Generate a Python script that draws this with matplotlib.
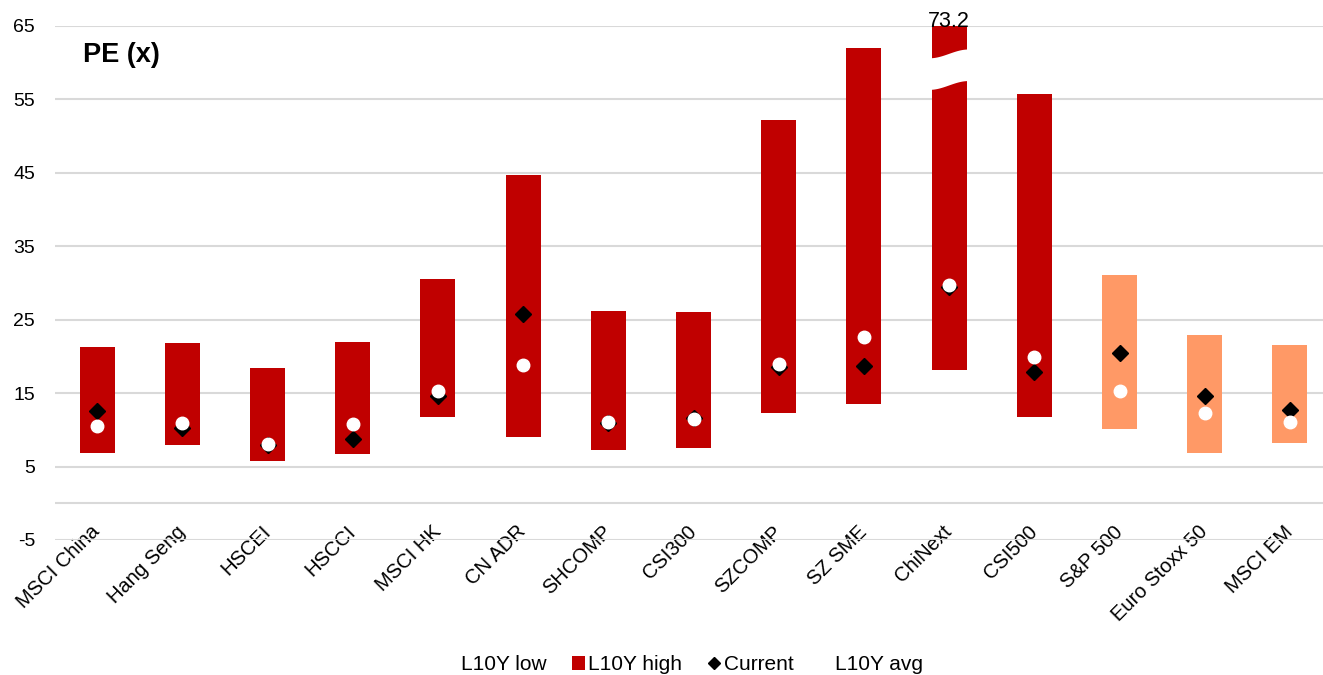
import numpy as np
import matplotlib
matplotlib.use("Agg")
import matplotlib.pyplot as plt
from matplotlib.lines import Line2D
from matplotlib.patches import Patch, Polygon

plt.rcParams["font.family"] = ["Liberation Sans", "DejaVu Sans"]
plt.rcParams["axes.unicode_minus"] = False

names = ["MSCI China", "Hang Seng", "HSCEI", "HSCCI", "MSCI HK", "CN ADR", "SHCOMP",
         "CSI300", "SZCOMP", "SZ SME", "ChiNext", "CSI500", "S&P 500", "Euro Stoxx 50", "MSCI EM"]
low = [6.9, 7.9, 5.8, 6.7, 11.7, 9.0, 7.2, 7.55, 12.3, 13.5, 18.1, 11.7, 10.1, 6.9, 8.2]
high = [21.3, 21.8, 18.4, 21.9, 30.5, 44.7, 26.2, 26.1, 52.2, 62.0, 73.2, 55.7, 31.1, 22.9, 21.5]
current = [12.55, 10.3, 8.0, 8.8, 14.6, 25.8, 11.0, 11.6, 18.5, 18.7, 29.5, 17.9, 20.4, 14.55, 12.7]
avg = [10.55, 10.9, 8.05, 10.8, 15.3, 18.9, 11.05, 11.45, 18.95, 22.7, 29.7, 19.9, 15.3, 12.3, 11.1]
china_count = 12  # first 12 are China/HK markets (dark red), rest global (orange)

RED = "#C00000"
ORANGE = "#FF9966"
GRID = "#d9d9d9"
YMAX = 65

fig = plt.figure(figsize=(13.23, 6.75), dpi=100)
ax = fig.add_axes([0.0412, 0.2, 0.966, 0.7615])

x = np.arange(len(names))
colors = [RED if i < china_count else ORANGE for i in range(len(names))]
heights = np.array(high) - np.array(low)
ax.bar(x, heights, bottom=low, width=0.41, color=colors, zorder=2)
ax.plot(x, current, linestyle="none", marker="D", color="black", markersize=8, zorder=3)
ax.plot(x, avg, linestyle="none", marker="o", color="white", markersize=9, zorder=4)

# axis break on bars that run past the top of the axis
for i, h in enumerate(high):
    if h > YMAX:
        ax.text(i, YMAX - 0.15, f"{h:.1f}", ha="center", va="baseline", fontsize=15.5)
        w = 0.23
        t = np.linspace(0, 1, 40)
        wave = 0.6 * np.sin(np.pi * t - np.pi / 2)
        wave_top = 61.2 + wave
        wave_bot = 56.9 + wave
        xs = i - w + 2 * w * t
        pts = np.concatenate([np.column_stack([xs, wave_top]),
                              np.column_stack([xs[::-1], wave_bot[::-1]])])
        ax.add_patch(Polygon(pts, closed=True, facecolor="white", edgecolor="none", zorder=3))

ax.set_xlim(-0.5, len(names) - 0.5)
ax.set_ylim(-5, YMAX)
ax.set_yticks(np.arange(-5, 66, 10))
ax.set_xticks(x)
ax.set_xticklabels(names, rotation=45, ha="right", va="center", rotation_mode="anchor",
                   fontsize=14.5)
ax.tick_params(axis="y", labelsize=14, length=0, pad=14)
ax.tick_params(axis="x", length=0, pad=-8)
ax.grid(axis="y", color=GRID, linewidth=1.5, zorder=0)
ax.axhline(0, color=GRID, linewidth=1.5, zorder=0)
ax.set_axisbelow(True)
for s in ax.spines.values():
    s.set_visible(False)

ax.text(0.022, 0.969, "PE (x)", transform=ax.transAxes, fontsize=19.5, fontweight="bold",
        va="top")

handles = [
    Patch(facecolor="none", edgecolor="none"),
    Patch(facecolor=RED, edgecolor="none"),
    Line2D([], [], linestyle="none", marker="D", color="black", markersize=6),
    Line2D([], [], linestyle="none", marker="o", color="white", markersize=6),
]
fig.legend(handles, ["L10Y low", "L10Y high", "Current", "L10Y avg"], loc="lower center",
           bbox_to_anchor=(0.517, -0.027), ncol=4, frameon=False, fontsize=15,
           handlelength=0.6, handletextpad=0.15, columnspacing=1.25)

fig.savefig("out.png", dpi=100)
